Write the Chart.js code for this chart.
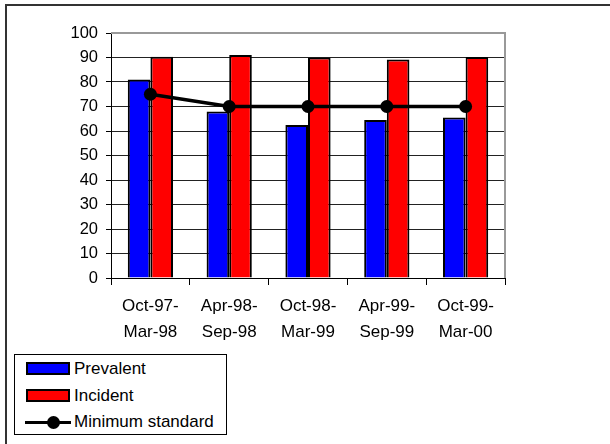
<!DOCTYPE html>
<html><head><meta charset="utf-8">
<script src="https://cdn.jsdelivr.net/npm/chart.js@4"></script>
<style>
html,body{margin:0;padding:0;background:#fff;width:610px;height:444px;overflow:hidden;font-family:"Liberation Sans",Arial,sans-serif;}
#frame{position:absolute;left:5px;top:4px;width:700px;height:600px;border:2px solid #333;box-sizing:border-box;}
#wrap{position:absolute;left:0;top:0;width:610px;height:444px;}
#legend{position:absolute;left:14px;top:354px;width:213px;height:81px;border:1px solid #000;box-sizing:border-box;background:#fff;}
.item{position:absolute;left:0;height:20px;font-size:17px;line-height:20px;color:#000;white-space:nowrap;}
.sw{position:absolute;left:11px;top:3px;width:44px;height:13px;border:2px solid #000;box-sizing:border-box;}
.ln{position:absolute;left:10px;top:9px;width:46px;height:3px;background:#000;}
.dot{position:absolute;left:32px;top:4px;width:13px;height:13px;border-radius:50%;background:#000;}
.txt{position:absolute;left:59px;top:0;}
</style></head>
<body>
<div id="frame"></div>
<div id="wrap"><canvas id="c" width="610" height="444"></canvas></div>
<div id="legend"></div>
<script>
const categories = [["Oct-97-","Mar-98"],["Apr-98-","Sep-98"],["Oct-98-","Mar-99"],["Apr-99-","Sep-99"],["Oct-99-","Mar-00"]];
const prevalent = [81, 68, 62.5, 64.5, 65.5];
const incident = [90.3, 91, 90, 89.2, 90.2];
const minimumStandard = [75, 70, 70, 70, 70];
const seriesNames = ["Prevalent", "Incident", "Minimum standard"];
const yTicks = [0,10,20,30,40,50,60,70,80,90,100];

const borderPlugin = {
  id: 'plotBorder',
  beforeDatasetsDraw(chart) {
    const a = chart.chartArea, ctx = chart.ctx;
    ctx.save();
    ctx.strokeStyle = '#999';
    ctx.lineWidth = 2;
    ctx.beginPath();
    ctx.moveTo(a.left, a.top);
    ctx.lineTo(a.right, a.top);
    ctx.lineTo(a.right, a.bottom);
    ctx.stroke();
    ctx.restore();
  }
};

const chart = new Chart(document.getElementById('c'), {
  data: {
    labels: categories,
    datasets: [
      {type:'line', label: seriesNames[2], data: minimumStandard, borderColor:'#000', backgroundColor:'#000',
       borderWidth:3.5, pointRadius:6.5, pointHoverRadius:6.5, pointBackgroundColor:'#000', pointBorderWidth:0, order:0, tension:0},
      {type:'bar', label: seriesNames[0], data: prevalent, backgroundColor:'#0000FF', borderColor:'#000', borderWidth:2,
       categoryPercentage:0.574, barPercentage:1, order:1},
      {type:'bar', label: seriesNames[1], data: incident, backgroundColor:'#FF0000', borderColor:'#000', borderWidth:2,
       categoryPercentage:0.574, barPercentage:1, order:1}
    ]
  },
  options: {
    responsive:false, animation:false,
    layout:{padding:{left:0, top:33, right:105, bottom:0}},
    plugins:{legend:{display:false}, tooltip:{enabled:false}},
    scales:{
      x:{
        offset:true,
        grid:{offset:true, drawOnChartArea:false, drawTicks:true, tickLength:7, color:'#000', tickWidth:1},
        border:{color:'#000', width:1},
        ticks:{color:'#000', padding:9, font:{family:'"Liberation Sans", Arial, sans-serif', size:17, lineHeight:1.5}, maxRotation:0, autoSkip:false},
        afterFit(s){ s.height = 444 - 278; }
      },
      y:{
        min:0, max:100,
        afterBuildTicks(s){ s.ticks = yTicks.map(v=>({value:v})); },
        grid:{color:(c)=> c.tick && c.tick.value===100 ? '#999' : '#222', lineWidth:1, drawTicks:true, tickLength:5, tickColor:'#000'},
        border:{color:'#000', width:1},
        ticks:{color:'#000', padding:8, font:{family:'"Liberation Sans", Arial, sans-serif', size:16.5}},
        afterFit(s){ s.width = 111; }
      }
    }
  },
  plugins:[borderPlugin]
});

// HTML legend built from the chart's datasets
const leg = document.getElementById('legend');
const order = [1,2,0];
const tops = [4, 31, 57];
order.forEach((di, i) => {
  const ds = chart.data.datasets[di];
  const it = document.createElement('div');
  it.className = 'item';
  it.style.top = tops[i] + 'px';
  if (ds.type === 'bar') {
    const sw = document.createElement('span'); sw.className='sw'; sw.style.background = ds.backgroundColor; it.appendChild(sw);
  } else {
    const ln = document.createElement('span'); ln.className='ln'; it.appendChild(ln);
    const dt = document.createElement('span'); dt.className='dot'; it.appendChild(dt);
  }
  const t = document.createElement('span'); t.className='txt'; t.textContent = ds.label; it.appendChild(t);
  leg.appendChild(it);
});
</script>
</body></html>
